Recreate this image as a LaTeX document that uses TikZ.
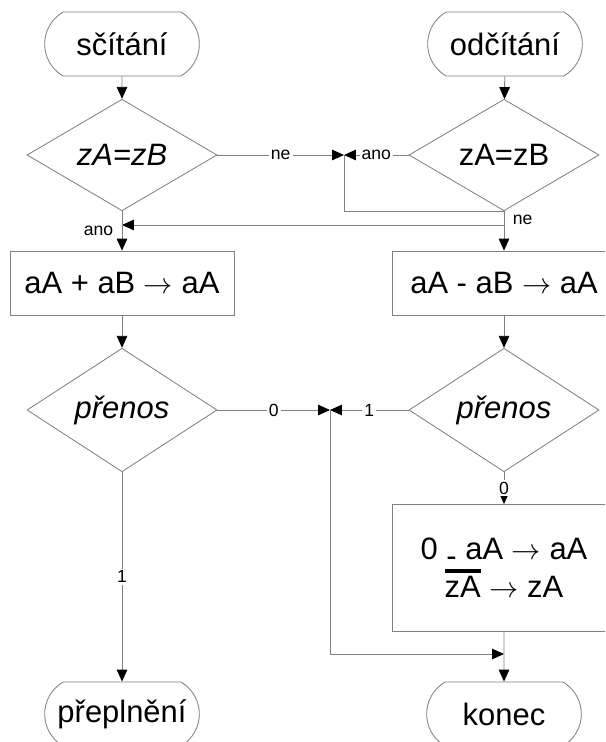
\documentclass[tikz,border=0pt]{standalone}
\usepackage{fontspec}
\setmainfont{Liberation Sans}
\usetikzlibrary{arrows.meta,shapes.geometric,shapes.misc}

% thick bar over a word (negated sign)
\newcommand{\negbar}[1]{\setbox0\hbox{#1}\rlap{\rule[\dimexpr\ht0+2.8pt\relax]{\wd0}{2.6pt}}\box0\relax}

\begin{document}
\begin{tikzpicture}[x=0.025cm,y=-0.025cm,
	>={Triangle[length=8.5pt,width=7.5pt,color=black]},
	line/.style={draw=gray,line width=0.6pt},
	term/.style={line,rounded rectangle,rounded rectangle arc length=120,
		minimum width=4.1cm,minimum height=1.6cm,font=\fontsize{22}{26}\selectfont},
	test/.style={line,diamond,inner sep=0pt,minimum width=4.75cm,minimum height=2.35cm,
		font=\fontsize{22}{26}\selectfont},
	proc/.style={line,rectangle,minimum width=5.6cm,minimum height=1.6cm,
		font=\fontsize{22}{26}\selectfont},
	lbl/.style={font=\fontsize{12.5}{14}\selectfont,fill=white,inner sep=1.5pt}]
	
	\useasboundingbox (0,0) rectangle (605,742);
	\clip (0,0) rectangle (605,742);
	
	% start nodes
	\node[term] (sc) at (122,44) {sčítání};
	\node[term] (od) at (505,44) {odčítání};
	
	% sign tests
	\node[test] (dzL) at (122,155) {\itshape zA=zB};
	\node[test] (dzR) at (504,155) {zA=zB};
	
	% add and subtract
	\node[proc] (aL) at (122,283) {aA + aB $\rightarrow$ aA};
	\node[proc] (aR) at (504,283) {aA - aB $\rightarrow$ aA};
	
	% carry tests
	\node[test] (dpL) at (122,410) {\itshape přenos};
	\node[test] (dpR) at (504,410) {\itshape přenos};
	
	% complement
	\node[proc,minimum height=3.175cm,align=center] (nR) at (504,568)
		{0 \raisebox{-0.22em}{-} aA $\rightarrow$ aA\\[1pt]\negbar{zA} $\rightarrow$ zA};
	
	% end nodes
	\node[term] (pr) at (122,714) {přeplnění};
	\node[term] (ko) at (504,714) {konec};
	
	% define the coordinates of the joins and bends
	\coordinate (J1) at (344,155);
	\coordinate (T1) at (504,211);
	\coordinate (T2) at (122,225);
	\coordinate (J2) at (330,410);
	\coordinate (T3) at (504,654);
	
	% draw the connectors
	\draw[line,->] (sc) -- (dzL);
	\draw[line,->] (od) -- (dzR);
	
	\draw[line,->] (dzL.east) -- (J1) node[lbl,midway]{ne};
	\draw[line,->] (dzR.west) -- (J1) node[lbl,midway]{ano};
	\draw[line,->] (J1) |- (T1) -- (aR.north);
	\draw[line,->] (dzR.south) |- (T2) node[pos=0.33,right,font=\fontsize{12.5}{14}\selectfont,inner sep=6pt]{ne};
	\draw[line,->] (dzL.south) -- (aL.north) node[midway,left,font=\fontsize{12.5}{14}\selectfont,inner sep=6pt]{ano};
	
	\draw[line,->] (aL) -- (dpL);
	\draw[line,->] (aR) -- (dpR);
	
	\draw[line,->] (dpL.east) -- (J2) node[lbl,midway]{0};
	\draw[line,->] (dpR.west) -- (J2) node[lbl,midway]{1};
	\draw[line,->] (J2) |- (T3);
	\draw[line,->] (dpR.south) -- (nR.north) node[lbl,midway]{0};
	\draw[line,->] (nR) -- (ko);
	\draw[line,->] (dpL.south) -- (pr.north) node[lbl,midway]{1};
	
\end{tikzpicture}
\end{document}
